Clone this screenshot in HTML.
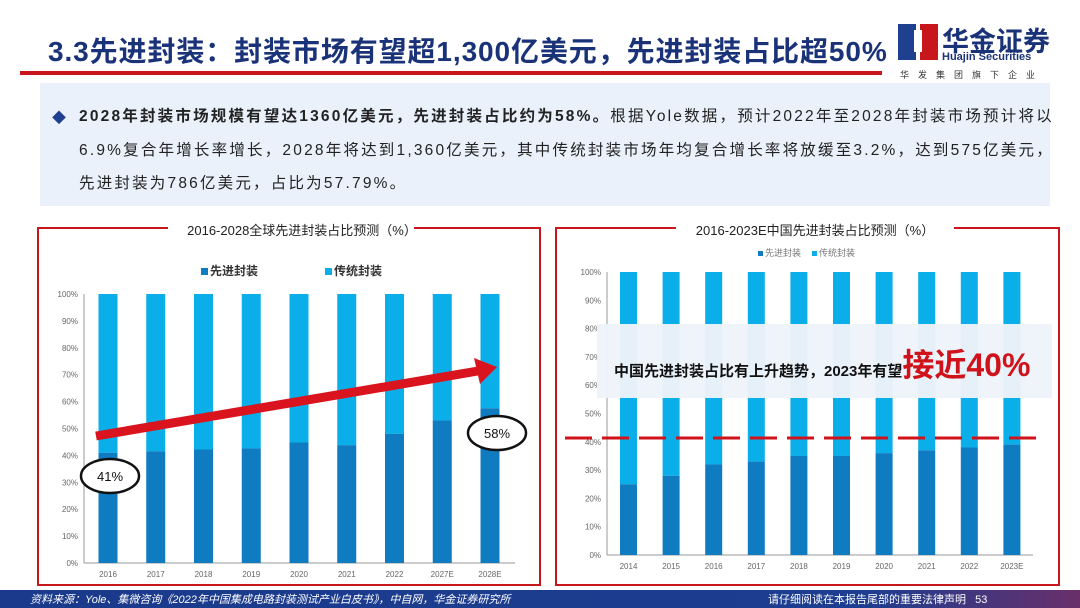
<!DOCTYPE html>
<html><head><meta charset="utf-8">
<style>
body{margin:0;width:1080px;height:608px;overflow:hidden;background:#fff;font-family:"Liberation Sans","Noto Sans CJK SC",sans-serif;position:relative}
.abs{position:absolute}
</style></head><body>
<div class="abs" style="left:48px;top:30px;font-size:28px;color:#1a3278;font-weight:bold;letter-spacing:0.9px;white-space:nowrap">3.3先进封装：封装市场有望超1,300亿美元，先进封装占比超50%</div>
<div class="abs" style="left:20px;top:71px;width:862px;height:4px;background:#c8161d"></div>
<div class="abs" style="left:898px;top:22px;width:160px;height:60px;background:#fff">
 <svg width="40" height="40" style="position:absolute;left:0;top:0"><rect x="0" y="2" width="18" height="36" fill="#1f3f8f"/><rect x="22" y="2" width="18" height="36" fill="#c8161d"/><rect x="16" y="8" width="8" height="22" fill="#fff"/></svg>
 <div class="abs" style="left:44px;top:-2px;font-size:27px;font-weight:bold;color:#1a3278;white-space:nowrap">华金证券</div>
 <div class="abs" style="left:44px;top:29px;font-size:11px;font-weight:bold;color:#1a3278;white-space:nowrap">Huajin Securities</div>
 <div class="abs" style="left:2px;top:46px;font-size:9px;color:#333;letter-spacing:9px;white-space:nowrap">华发集团旗下企业</div>
</div>
<div class="abs" style="left:40px;top:83px;width:1010px;height:123px;background:#eaf1fb"></div>
<div class="abs" style="left:52px;top:108px;font-size:14px;color:#1f3f8f">◆</div>
<div class="abs" style="left:79px;top:100px;width:990px;font-size:15.5px;line-height:33.5px;letter-spacing:2.2px;color:#222;white-space:nowrap"><b>2028年封装市场规模有望达1360亿美元，先进封装占比约为58%。</b>根据Yole数据，预计2022年至2028年封装市场预计将以<br>6.9%复合年增长率增长，2028年将达到1,360亿美元，其中传统封装市场年均复合增长率将放缓至3.2%，达到575亿美元，<br>先进封装为786亿美元，占比为57.79%。</div>

<svg class="abs" style="left:0;top:0" width="1080" height="608">
 <rect x="38" y="228" width="502" height="357" fill="none" stroke="#c8161d" stroke-width="2"/>
 <rect x="556" y="228" width="503" height="357" fill="none" stroke="#c8161d" stroke-width="2"/>
 <rect x="168" y="220" width="246" height="18" fill="#fff"/>
 <text x="302" y="235" font-size="13" text-anchor="middle" fill="#222">2016-2028全球先进封装占比预测（%）</text>
 <rect x="676" y="220" width="278" height="18" fill="#fff"/>
 <text x="815" y="235" font-size="13" text-anchor="middle" fill="#222">2016-2023E中国先进封装占比预测（%）</text>
 <g id="c1"></g><g id="c2"></g>
 <rect x="597" y="324" width="455" height="74" fill="#eef3fa" opacity="0.96"/>
 <text x="614" y="376" font-size="15" font-weight="bold" fill="#111">中国先进封装占比有上升趋势，2023年有望<tspan font-size="32" fill="#d0121b">接近40%</tspan></text>
 <line x1="565" y1="438" x2="1037" y2="438" stroke="#d0121b" stroke-width="3" stroke-dasharray="27,10"/>
 <g id="ann"></g>
</svg>
<div class="abs" style="left:0;top:590px;width:1080px;height:18px;background:linear-gradient(90deg,#1b3a8c 0%,#1c3d90 80%,#6a2f6a 100%)"></div>
<div class="abs" style="left:30px;top:591px;font-size:11px;color:#fff;font-style:italic;white-space:nowrap">资料来源：Yole、集微咨询《2022年中国集成电路封装测试产业白皮书》，中自网，华金证券研究所</div>
<div class="abs" style="left:768px;top:591px;font-size:11px;color:#fff;white-space:nowrap">请仔细阅读在本报告尾部的重要法律声明 &nbsp; 53</div>
<script>
const NS='http://www.w3.org/2000/svg';
const cats1=['2016','2017','2018','2019','2020','2021','2022','2027E','2028E'];
const adv1=[41,41.5,42.2,42.6,44.8,43.8,48,53,57.5];
const cats2=['2014','2015','2016','2017','2018','2019','2020','2021','2022','2023E'];
const adv2=[25,28,32,33,35,35,36,37,38,39];
const ticks=[0,10,20,30,40,50,60,70,80,90,100];
function mk(t,a,p){const e=document.createElementNS(NS,t);for(const k in a)e.setAttribute(k,a[k]);if(p)p.appendChild(e);return e;}
function chart(g,cats,vals,o){
 const y=v=>o.y0-(o.y0-o.y1)*v/100;
 const x=i=>o.xc0+i*o.step;
 ticks.forEach(t=>{const tx=mk('text',{x:o.ax-6,y:y(t)+3,'font-size':8,'text-anchor':'end',fill:'#666'},g);tx.textContent=t+'%';
  });
 const ax=mk('line',{x1:o.ax,y1:y(100),x2:o.ax,y2:y(0),stroke:'#999'},g);
 
 const bx=mk('line',{x1:o.ax,y1:y(0),x2:o.xe,y2:y(0),stroke:'#999'},g);
 
 cats.forEach((c,i)=>{
  const r1=mk('rect',{x:x(i)-o.bw/2,y:y(100),width:o.bw,height:y(vals[i])-y(100),fill:'#0aaee8'},g);
  
  const r2=mk('rect',{x:x(i)-o.bw/2,y:y(vals[i]),width:o.bw,height:y(0)-y(vals[i]),fill:'#0f7bc1'},g);
  
  const t=mk('text',{x:x(i),y:y(0)+14,'font-size':8,'text-anchor':'middle',fill:'#666'},g);t.textContent=c;
  
 });
 o.leg.forEach((l,i)=>{
  const s=mk('rect',{x:l[0],y:o.ly-o.ls+1,width:o.ls-1,height:o.ls-1,fill:i?'#0aaee8':'#0f7bc1'},g);
  
  const t=mk('text',{x:l[0]+o.ls+1,y:o.ly,'font-size':o.lf,fill:o.lc,'font-weight':o.lw},g);t.textContent=l[1];
  
 });
 return {x,y};
}
chart(document.getElementById('c1'),cats1,adv1,{y0:563,y1:294,ax:84,xe:515,xc0:108,step:47.75,bw:19,leg:[[201,'先进封装'],[325,'传统封装']],ly:275,ls:8,lf:12,lc:'#333',lw:'bold'});
chart(document.getElementById('c2'),cats2,adv2,{y0:555,y1:272,ax:607,xe:1033,xc0:628.5,step:42.6,bw:17,leg:[[758,'先进封装'],[812,'传统封装']],ly:256,ls:6,lf:9,lc:'#777',lw:'normal'});
const ann=document.getElementById('ann');
const arr=mk('line',{x1:96,y1:436,x2:478,y2:371,stroke:'#d9141e','stroke-width':9},ann);

const ah=mk('polygon',{points:'497,367 474,358 480,384',fill:'#d9141e'},ann);

[[110,476,'41%'],[497,433,'58%']].forEach(a=>{
 const e=mk('ellipse',{cx:a[0],cy:a[1],rx:29,ry:17,fill:'#fff',stroke:'#111','stroke-width':2.5},ann);
 
 const t=mk('text',{x:a[0],y:a[1]+5,'font-size':13,'text-anchor':'middle',fill:'#111'},ann);t.textContent=a[2];
 
});
</script>
</body></html>
